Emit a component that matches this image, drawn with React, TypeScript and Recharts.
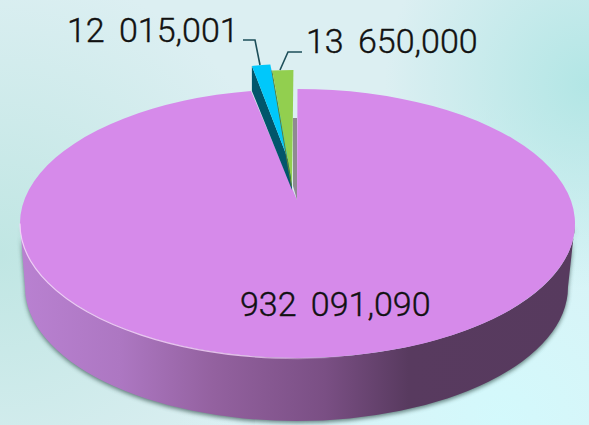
import { PieChart, Pie } from 'recharts';

const categories = ['main', 'second', 'third'];
const values = [932091.09, 12015.001, 13650];
const valueLabels = ['932 091,090', '12 015,001', '13 650,000'];
const topColors = ['#d68aea', '#00c8fb', '#92cf4f'];

// ellipse of the lid, the pie's polar angles are squashed onto this
const RX = 277.5;
const RY = 134.5;
const CX = 297.5;
const CY = 223.5;
const APEX = { x: 297, y: 200 };
const FONT = 'Roboto, "Open Sans", sans-serif';

const chartData = categories.map((name, i) => ({ name, value: values[i], text: valueLabels[i] }));

const rim = (deg: number) => {
  const a = (deg * Math.PI) / 180;
  return { x: CX + RX * Math.cos(a), y: CY - RY * Math.sin(a) };
};

// pulled-out slices: narrower than the lid and shifted up
const pulled = (deg: number, pivot: number, dy: number) => {
  const p = rim(deg);
  return { x: pivot + (p.x - 297) * 0.85, y: p.y + dy };
};

function MainSlice({ startAngle, endAngle }: any) {
  const a = rim(startAngle);
  const b = rim(endAngle);
  const wall = `M20 ${CY} A${RX} ${RY} 0 0 0 575 ${CY} L568 287 A271.5 134 0 0 1 25 287 Z`;
  return (
    <g>
      <defs>
        <linearGradient id="wallFill" gradientUnits="userSpaceOnUse" x1="20" y1="0" x2="575" y2="0">
          <stop offset="0" stopColor="#b981d1" />
          <stop offset="0.18" stopColor="#ad77c2" />
          <stop offset="0.35" stopColor="#93619f" />
          <stop offset="0.55" stopColor="#7a4f84" />
          <stop offset="0.7" stopColor="#583a5f" />
          <stop offset="1" stopColor="#573a5e" />
        </linearGradient>
        <linearGradient id="rimLight" gradientUnits="userSpaceOnUse" x1="20" y1="0" x2="350" y2="0">
          <stop offset="0" stopColor="#f6d4fb" stopOpacity="0.9" />
          <stop offset="0.7" stopColor="#f6d4fb" stopOpacity="0.8" />
          <stop offset="1" stopColor="#f6d4fb" stopOpacity="0" />
        </linearGradient>
        <filter id="wallShadow" x="-5%" y="-5%" width="110%" height="115%">
          <feGaussianBlur stdDeviation="2" />
        </filter>
      </defs>
      <path d={wall} fill="#3d5a56" opacity="0.75" filter="url(#wallShadow)" transform="translate(0 2)" />
      <path d={wall} fill="url(#wallFill)" />
      <path
        d={`M${APEX.x} ${APEX.y} L${a.x} ${a.y} A${RX} ${RY} 0 1 1 ${b.x} ${b.y} Z`}
        fill={topColors[0]}
      />
      <path d={`M20 ${CY} A${RX} ${RY} 0 0 0 400 349`} fill="none" stroke="url(#rimLight)" strokeWidth="1.2" />
      <path d="M293 118 L297 118 L297 200 L293 186 Z" fill="#8f8a92" />
    </g>
  );
}

function BlueSlice({ startAngle, endAngle }: any) {
  const a = pulled(startAngle, 291, -25);
  const b = pulled(endAngle, 291, -25);
  return (
    <g>
      <path d={`M${a.x} ${a.y} L${a.x} ${a.y + 25} L292 190 L291 167 Z`} fill="#01566b" />
      <path d={`M291 167 L${a.x} ${a.y} A${RX * 0.85} ${RY} 0 0 1 ${b.x} ${b.y} Z`} fill={topColors[1]} />
    </g>
  );
}

function GreenSlice({ startAngle, endAngle }: any) {
  const a = pulled(startAngle, 293, -19);
  const b = pulled(endAngle, 293, -19);
  return (
    <g>
      <path d={`M${a.x - 1} ${a.y} L291 186 L292 186 L${a.x} ${a.y} Z`} fill="#5f7f35" />
      <path d={`M292 184 L${a.x} ${a.y} L${b.x} ${b.y} Z`} fill={topColors[2]} />
    </g>
  );
}

function SliceShape(props: any) {
  if (props.name === categories[0]) return <MainSlice {...props} />;
  if (props.name === categories[1]) return <BlueSlice {...props} />;
  return <GreenSlice {...props} />;
}

function SliceLabel({ index, payload }: any) {
  const text = payload?.text ?? valueLabels[index];
  const common = { fontFamily: FONT, fontSize: 34, fontWeight: 300, fill: '#111', wordSpacing: 6, stroke: '#111', strokeWidth: 0.4 };
  if (index === 0) {
    return <text x={240} y={316} {...common}>{text}</text>;
  }
  if (index === 1) {
    return (
      <g>
        <text x={67} y={42} {...common}>{text}</text>
        <path d="M243 40 L255 40 L260 65" fill="none" stroke="#1d4f5a" strokeWidth={1.6} />
      </g>
    );
  }
  return (
    <g>
      <text x={306} y={53} {...common}>{text}</text>
      <path d="M302 52 L288 52 L280 70" fill="none" stroke="#1d4f5a" strokeWidth={1.6} />
    </g>
  );
}

export default function App() {
  return (
    <div
      style={{
        position: 'fixed',
        left: 0,
        top: 0,
        width: 589,
        height: 425,
        overflow: 'hidden',
        background:
          'radial-gradient(circle at 100% 20%, #b2e6e5 0, rgba(178,230,229,0) 30%),' +
          'radial-gradient(circle at 85% 100%, #d3f9fc 0, rgba(211,249,252,0) 50%),' +
          'radial-gradient(circle at 0% 60%, #c0e6e3 0, rgba(192,230,227,0) 45%),' +
          '#dceff2',
      }}
    >
      <PieChart width={589} height={425} margin={{ top: 0, right: 0, bottom: 0, left: 0 }}>
        <Pie
          data={chartData}
          dataKey="value"
          nameKey="name"
          cx={CX}
          cy={CY}
          outerRadius={RX}
          startAngle={90}
          endAngle={-270}
          stroke="none"
          shape={SliceShape}
          label={SliceLabel}
          labelLine={false}
          isAnimationActive={false}
        />
      </PieChart>
    </div>
  );
}
